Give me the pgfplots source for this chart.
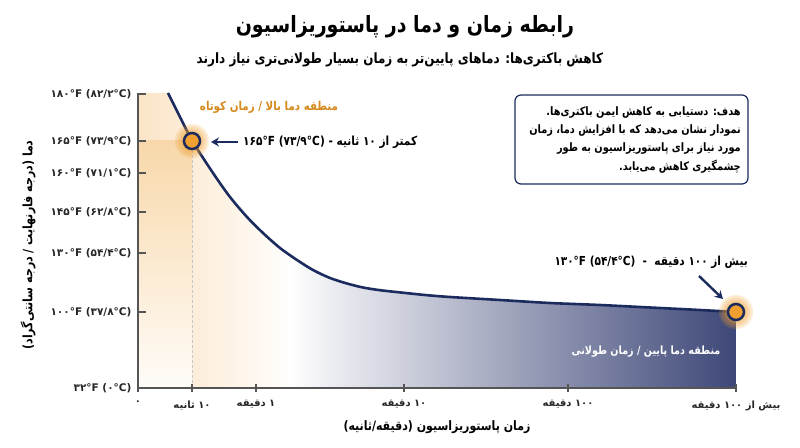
\documentclass[border=0pt]{standalone}
\usepackage{pgfplots}
\pgfplotsset{compat=1.18}
\usetikzlibrary{arrows.meta}
\usepackage{fontspec}
\setmainfont{DejaVu Sans}
\newfontfamily\fa[Script=Arabic]{DejaVu Sans}
\TeXXeTstate=1
\newcommand\tall[1]{\scalebox{1}[1.18]{#1}}
\definecolor{navy}{HTML}{1C2B5E}
\definecolor{axisgray}{HTML}{555555}
\definecolor{mark}{HTML}{F0A030}
\definecolor{otext}{HTML}{D4891C}
\definecolor{bend}{HTML}{3E4878}
\definecolor{peach}{HTML}{FBE4C6}
\definecolor{orangetop}{HTML}{F8D8AA}
\pgfplotsset{glow/.style={color=mark, only marks, mark=*, mark size=#1, mark options={draw=none, fill=mark}, opacity=0.13}}
\begin{document}
\begin{tikzpicture}[x=1pt,y=1pt]
\begin{axis}[
  at={(138pt,59pt)}, anchor=south west,
  width=598pt, height=295pt, scale only axis,
  xmin=0, xmax=598, ymin=0, ymax=295,
  clip=false, axis on top,
  axis x line*=bottom, axis y line*=left,
  axis line style={-, draw=axisgray, line width=1.3pt},
  major tick length=8pt,
  ytick align=inside, xtick align=center,
  tick style={draw=axisgray, line width=1.2pt},
  xtick={0,54,118,266,430,598},
  xticklabels={{۰},{\beginR ۱۰ ثانیه\endR},{\beginR ۱ دقیقه\endR},{\beginR ۱۰ دقیقه\endR},{\beginR ۱۰۰ دقیقه\endR},{\beginR بیش از ۱۰۰ دقیقه\endR}},
  ytick={0,76,135,176,215,247,294},
  yticklabels={{۳۲°F (۰°C)},{۱۰۰°F (۳۷/۸°C)},{۱۳۰°F (۵۴/۴°C)},{۱۴۵°F (۶۲/۸°C)},{۱۶۰°F (۷۱/۱°C)},{۱۶۵°F (۷۳/۹°C)},{۱۸۰°F (۸۲/۲°C)}},
  yticklabel style={font=\fa\bfseries\fontsize{10.5}{12}\selectfont, text=black!85, xshift=-3pt},
  xticklabel style={font=\fa\bfseries\fontsize{10}{12}\selectfont, text=black!85, yshift=-5pt},
]
% peach region under the curve (left part)
\addplot[draw=none, left color=peach, right color=white] coordinates {
  (0,295) (30,295) (42,271) (55,246) (75,215) (92,191) (109,171) (125,155) (142,140) (160,127)
} \closedcycle;
% blue region under the curve (right part)
\addplot[draw=none, left color=white, middle color=bend!45!white, right color=bend] coordinates {
  (150,134) (159,128) (175,118) (192,110) (209,104.5) (225,100.5) (242,97.8) (262,95.6) (287,93) (312,91) (362,88) (412,85) (462,83) (512,80.5) (562,78) (598,76)
} \closedcycle;
% orange block below 165F up to 10 s
\addplot[draw=none, top color=orangetop, bottom color=orangetop!8!white] coordinates {(0,247) (54,247)} \closedcycle;
% dashed guide
\addplot[densely dashed, black!22, line width=0.6pt] coordinates {(54,0) (54,247)};
% curve
\addplot[navy, line width=2.6pt, smooth] coordinates {
  (30,295) (42,271) (55,246) (75,215) (92,191) (109,171) (125,155) (142,140) (159,128) (175,118) (192,110) (209,104.5) (225,100.5) (242,97.8) (262,95.6) (287,93) (312,91) (362,88) (412,85) (462,83) (512,80.5) (562,78) (598,76)
};
% glow
\addplot[glow=17pt] coordinates {(54,247) (598,76)};
\addplot[glow=15.5pt] coordinates {(54,247) (598,76)};
\addplot[glow=14pt] coordinates {(54,247) (598,76)};
\addplot[glow=12.5pt] coordinates {(54,247) (598,76)};
\addplot[glow=11pt] coordinates {(54,247) (598,76)};
\addplot[glow=10pt] coordinates {(54,247) (598,76)};
% markers
\addplot[only marks, mark=*, mark size=8pt, mark options={draw=navy, fill=mark, line width=2.5pt}] coordinates {(54,247) (598,76)};
\end{axis}
% titles
\node[font=\fa\bfseries\fontsize{19}{23}\selectfont] at (405,420) {\tall{\beginR رابطه زمان و دما در پاستوریزاسیون\endR}};
\node[font=\fa\bfseries\fontsize{12}{14}\selectfont] at (400,387) {\tall{\beginR کاهش باکتری^^^^200cها: دماهای پایین^^^^200cتر به زمان بسیار طولانی^^^^200cتری نیاز دارند\endR}};
% axis labels
\node[rotate=90, font=\fa\bfseries\fontsize{11}{13}\selectfont] at (28,202) {\tall{\beginR دما (درجه فارنهایت / درجه سانتی^^^^200cگراد)\endR}};
\node[font=\fa\bfseries\fontsize{11}{13}\selectfont] at (437,20) {\tall{\beginR زمان پاستوریزاسیون (دقیقه/ثانیه)\endR}};
% zone labels
\node[font=\fa\bfseries\fontsize{10.3}{13}\selectfont, text=otext] at (269,340) {\tall{\beginR منطقه دما بالا / زمان کوتاه\endR}};
\node[font=\fa\bfseries\fontsize{9.6}{12}\selectfont, text=white] at (646,95) {\tall{\beginR منطقه دما پایین / زمان طولانی\endR}};
% point annotations
\draw[navy, line width=2.4pt, -{Stealth[length=8pt,width=9pt]}] (238,305) -- (211,305);
\node[anchor=west, inner sep=0pt, font=\fa\bfseries\fontsize{10.6}{13}\selectfont] at (243,305) {\tall{۱۶۵°F (۷۳/۹°C) - \beginR کمتر از ۱۰ ثانیه\endR}};
\draw[navy, line width=2.4pt, -{Stealth[length=8pt,width=9pt]}] (699,171) -- (723,148);
\node[anchor=east, inner sep=0pt, font=\fa\bfseries\fontsize{10.5}{13}\selectfont] at (748,185) {\tall{۱۳۰°F (۵۴/۴°C) \ - \ \beginR بیش از ۱۰۰ دقیقه\endR}};
% goal box
\draw[navy, line width=1.2pt, rounded corners=6pt, fill=white] (515,263) rectangle (748,352);
\node[anchor=east, inner sep=0pt, font=\fa\bfseries\fontsize{9.8}{12}\selectfont] at (741,334) {\tall{\beginR هدف: دستیابی به کاهش ایمن باکتری^^^^200cها.\endR}};
\node[anchor=east, inner sep=0pt, font=\fa\bfseries\fontsize{9.8}{12}\selectfont] at (741,316) {\tall{\beginR نمودار نشان می^^^^200cدهد که با افزایش دما، زمان\endR}};
\node[anchor=east, inner sep=0pt, font=\fa\bfseries\fontsize{9.8}{12}\selectfont] at (741,298) {\tall{\beginR مورد نیاز برای پاستوریزاسیون به طور\endR}};
\node[anchor=east, inner sep=0pt, font=\fa\bfseries\fontsize{9.8}{12}\selectfont] at (741,280) {\tall{\beginR چشمگیری کاهش می^^^^200cیابد.\endR}};
\pgfresetboundingbox
\path[use as bounding box] (0,0) rectangle (800,447);
\end{tikzpicture}
\end{document}
